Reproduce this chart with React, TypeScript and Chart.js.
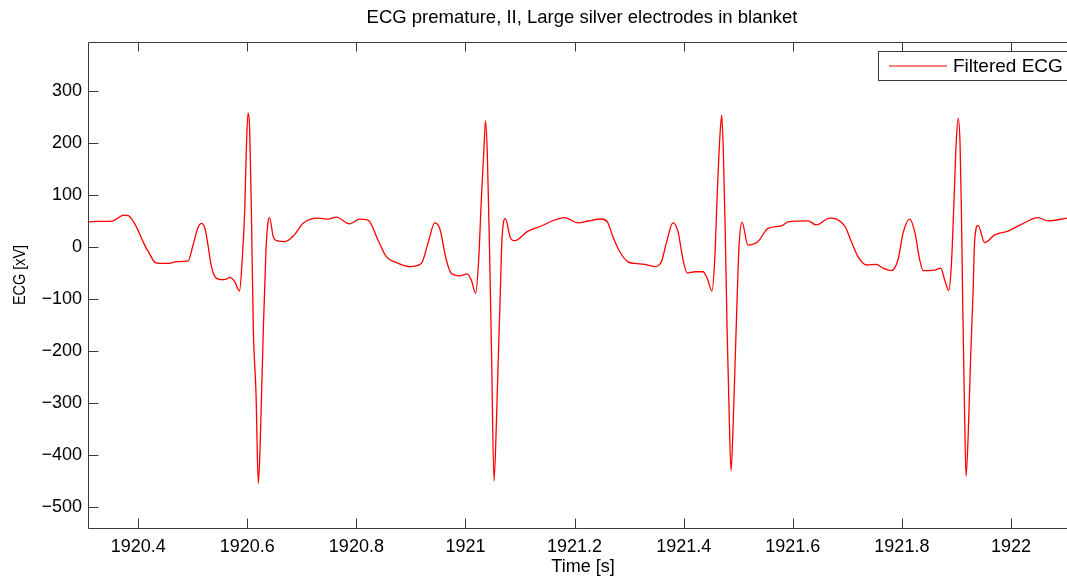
import React, { useEffect, useRef } from "react";
import { Chart, registerables } from "chart.js";

Chart.register(...registerables);

const chartTitle = "ECG premature, II, Large silver electrodes in blanket";
const xAxisTitle = "Time [s]";
const yAxisTitle = "ECG [xV]";
const seriesLabel = "Filtered ECG";

const xTickValues = [1920.4, 1920.6, 1920.8, 1921, 1921.2, 1921.4, 1921.6, 1921.8, 1922];
const yTickValues = [-500, -400, -300, -200, -100, 0, 100, 200, 300];
const xLimits = [1920.308, 1922.1027];
const yLimits = [-541.7, 394.8];

const timeS = [
  1920.3080, 1920.3239, 1920.3392, 1920.3538, 1920.3630, 1920.3727, 1920.3819, 1920.3910, 1920.3997, 1920.4064,
  1920.4149, 1920.4185, 1920.4308, 1920.4400, 1920.4547, 1920.4702, 1920.4913, 1920.5005, 1920.5097, 1920.5161,
  1920.5225, 1920.5289, 1920.5335, 1920.5399, 1920.5509, 1920.5615, 1920.5683, 1920.5769, 1920.5857, 1920.5903,
  1920.5953, 1920.5982, 1920.6013, 1920.6044, 1920.6074, 1920.6110, 1920.6160, 1920.6202, 1920.6233, 1920.6264,
  1920.6294, 1920.6343, 1920.6385, 1920.6407, 1920.6477, 1920.6539, 1920.6691, 1920.6856, 1920.7021, 1920.7296,
  1920.7480, 1920.7632, 1920.7877, 1920.8061, 1920.8213, 1920.8396, 1920.8548, 1920.8702, 1920.8977, 1920.9190,
  1920.9313, 1920.9436, 1920.9527, 1920.9648, 1920.9740, 1920.9894, 1921.0033, 1921.0107, 1921.0187, 1921.0242,
  1921.0290, 1921.0340, 1921.0367, 1921.0400, 1921.0440, 1921.0477, 1921.0523, 1921.0569, 1921.0605, 1921.0638,
  1921.0669, 1921.0730, 1921.0829, 1921.0902, 1921.1146, 1921.1390, 1921.1636, 1921.1819, 1921.2063, 1921.2246,
  1921.2490, 1921.2600, 1921.2704, 1921.2827, 1921.2979, 1921.3102, 1921.3285, 1921.3469, 1921.3590, 1921.3682,
  1921.3804, 1921.3896, 1921.3988, 1921.4066, 1921.4202, 1921.4354, 1921.4433, 1921.4519, 1921.4569, 1921.4611,
  1921.4660, 1921.4697, 1921.4726, 1921.4763, 1921.4794, 1921.4827, 1921.4868, 1921.4910, 1921.4946, 1921.4983,
  1921.5014, 1921.5069, 1921.5179, 1921.5362, 1921.5546, 1921.5790, 1921.5912, 1921.6279, 1921.6431, 1921.6677,
  1921.6952, 1921.7073, 1921.7195, 1921.7348, 1921.7531, 1921.7654, 1921.7806, 1921.7929, 1921.8021, 1921.8143,
  1921.8235, 1921.8327, 1921.8387, 1921.8602, 1921.8712, 1921.8785, 1921.8858, 1921.8906, 1921.8956, 1921.8998,
  1921.9034, 1921.9066, 1921.9090, 1921.9117, 1921.9145, 1921.9176, 1921.9216, 1921.9258, 1921.9304, 1921.9335,
  1921.9396, 1921.9518, 1921.9702, 1921.9945, 1922.0189, 1922.0496, 1922.0680, 1922.1027,
];

const ecgXV = [
  49, 50, 50, 51, 56, 62, 61, 50, 33, 17,
  -2, -8, -29, -31, -31, -27.5, -26.5, 4, 38, 46,
  36, -2, -33, -55, -62, -61, -57.7, -66, -84, -31,
  72, 187, 258, 225, 78, -153, -281, -454, -390, -274,
  -159, -5, 52, 57, 20, 12.7, 11, 23, 46, 56,
  54, 58, 45, 54, 52.5, 14, -18, -28, -37, -31,
  8, 47, 36.5, -24, -50, -55, -51, -63, -88.5, -24,
  91, 193, 243, 181, 0, -200, -449, -330, -200, -88,
  14, 55, 17, 12.7, 31, 41, 52.5, 57, 47, 50.6,
  54.4, 49, 20, -8, -28, -31, -33, -37, -28, 8,
  47, 30, -24, -49, -47, -47, -60, -84, -24, 91,
  206, 254, 187, 27, -150, -290, -430, -330, -210, -88,
  1, 48.6, 4, 11, 36.5, 41, 49, 51, 43, 56,
  41, 11, -18, -34, -33, -40, -45, -24, 27, 54,
  30, -24, -45, -44, -40, -63, -83, -37, 91, 206,
  248, 200, 78, -120, -290, -440, -360, -220, -88, 14,
  42, 9, 24, 31, 44, 57, 51, 56,
];

const FONT_FAMILY = '"Liberation Sans", Arial, Helvetica, sans-serif';
const AXIS_COLOR = "#3a3a3a";

const framePlugin = {
  id: "matlabFrame",
  afterDraw(chart: any) {
    const { ctx, chartArea, scales } = chart;
    const { left, right, top, bottom } = chartArea;
    const L = Math.round(left) + 0.5;
    const T = Math.round(top) + 0.5;
    const B = Math.round(bottom) - 0.5;
    ctx.save();
    ctx.strokeStyle = AXIS_COLOR;
    ctx.lineWidth = 1;
    ctx.beginPath();
    ctx.moveTo(L, T);
    ctx.lineTo(L, B);
    ctx.lineTo(right + 5, B);
    ctx.moveTo(L, T);
    ctx.lineTo(right + 5, T);
    for (const v of xTickValues) {
      const px = Math.round(scales.x.getPixelForValue(v)) + 0.5;
      ctx.moveTo(px, B);
      ctx.lineTo(px, B - 10);
      ctx.moveTo(px, T);
      ctx.lineTo(px, T + 9);
    }
    for (const v of yTickValues) {
      const py = Math.round(scales.y.getPixelForValue(v)) + 0.5;
      ctx.moveTo(L, py);
      ctx.lineTo(L + 10, py);
    }
    ctx.stroke();

    // title
    ctx.fillStyle = "#000";
    ctx.font = `18.5px ${FONT_FAMILY}`;
    ctx.textAlign = "center";
    ctx.textBaseline = "middle";
    ctx.fillText(chartTitle, 582, 18);

    // axis titles
    ctx.font = `18px ${FONT_FAMILY}`;
    ctx.fillText(xAxisTitle, 583, 567);
    ctx.save();
    ctx.translate(20, 275);
    ctx.rotate(-Math.PI / 2);
    ctx.scale(0.85, 1);
    ctx.font = `17px ${FONT_FAMILY}`;
    ctx.fillText(yAxisTitle, 0, 0);
    ctx.restore();

    // legend
    const lx = 878.5, ly = 51.5, lw = 220, lh = 29;
    ctx.fillStyle = "#fff";
    ctx.fillRect(lx, ly, lw, lh);
    ctx.strokeStyle = AXIS_COLOR;
    ctx.lineWidth = 1;
    ctx.strokeRect(lx, ly, lw, lh);
    ctx.strokeStyle = "#ff0000";
    ctx.lineWidth = 1.2;
    ctx.beginPath();
    ctx.moveTo(889, 66);
    ctx.lineTo(947, 66);
    ctx.stroke();
    ctx.fillStyle = "#000";
    ctx.font = `19px ${FONT_FAMILY}`;
    ctx.textAlign = "left";
    ctx.textBaseline = "middle";
    ctx.fillText(seriesLabel, 953, 67);
    ctx.restore();
  },
};

function fmtX(v: number) {
  return String(Number(v.toFixed(1)));
}
function fmtY(v: number) {
  return v < 0 ? "\u2212" + String(Math.abs(v)) : String(v);
}

export default function App() {
  const canvasRef = useRef<HTMLCanvasElement | null>(null);

  useEffect(() => {
    const canvas = canvasRef.current;
    if (!canvas) return;
    const points = timeS.map((t, i) => ({ x: t, y: ecgXV[i] }));
    const chart = new Chart(canvas, {
      type: "line",
      data: {
        datasets: [
          {
            label: seriesLabel,
            data: points,
            borderColor: "#ff0000",
            backgroundColor: "#ff0000",
            borderWidth: 1.3,
            pointRadius: 0,
            fill: false,
            cubicInterpolationMode: "monotone",
          },
        ],
      },
      options: {
        responsive: false,
        maintainAspectRatio: false,
        animation: false,
        devicePixelRatio: 1,
        layout: { padding: { left: 0, right: 0, top: 42, bottom: 0 } },
        plugins: {
          legend: { display: false },
          title: { display: false },
          tooltip: { enabled: false },
        },
        scales: {
          x: {
            type: "linear",
            min: xLimits[0],
            max: xLimits[1],
            afterFit: (s: any) => {
              s.height = 47;
            },
            afterBuildTicks: (s: any) => {
              s.ticks = xTickValues.map((v) => ({ value: v }));
            },
            grid: { display: false, drawTicks: false },
            border: { display: false },
            ticks: {
              autoSkip: false,
              maxRotation: 0,
              padding: 7,
              color: "#000",
              font: { family: FONT_FAMILY, size: 18 },
              callback: (v: any) => fmtX(Number(v)),
            },
            title: { display: false, text: xAxisTitle },
          },
          y: {
            type: "linear",
            min: yLimits[0],
            max: yLimits[1],
            afterFit: (s: any) => {
              s.width = 88;
            },
            afterBuildTicks: (s: any) => {
              s.ticks = yTickValues.map((v) => ({ value: v }));
            },
            grid: { display: false, drawTicks: false },
            border: { display: false },
            ticks: {
              autoSkip: false,
              padding: 6,
              color: "#000",
              font: { family: FONT_FAMILY, size: 18 },
              callback: (v: any) => fmtY(Number(v)),
            },
            title: { display: false, text: yAxisTitle },
          },
        },
      },
      plugins: [framePlugin],
    } as any);
    return () => chart.destroy();
  }, []);

  return (
    <div style={{ position: "fixed", left: 0, top: 0, width: 1067, height: 576, background: "#fff" }}>
      <canvas ref={canvasRef} width={1067} height={576} style={{ display: "block", width: 1067, height: 576 }} />
    </div>
  );
}
